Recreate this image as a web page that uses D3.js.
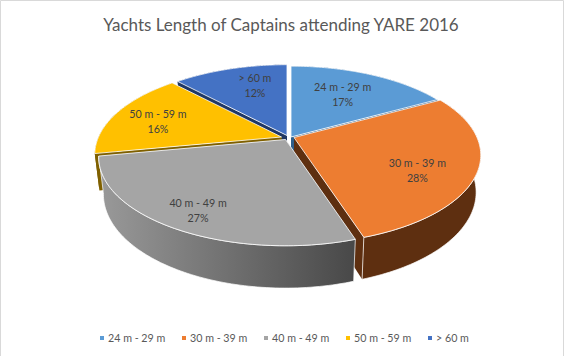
<!DOCTYPE html>
<html>
<head>
<meta charset="utf-8">
<script src="https://cdnjs.cloudflare.com/ajax/libs/d3/7.8.5/d3.min.js"></script>
<style>
  html, body { margin: 0; padding: 0; background: #fff; }
  svg { display: block; }
  text { font-family: Lato, "Open Sans", sans-serif; }
</style>
</head>
<body>
<div id="wrapper"></div>
<script>
// 1. Data
const chartTitle = "Yachts Length of Captains attending YARE 2016"
const categories = ["24 m - 29 m", "30 m - 39 m", "40 m - 49 m", "50 m - 59 m", "> 60 m"]
const shares = [17, 28, 27, 16, 12]
const topColors = ["#5B9BD5", "#ED7D31", "#A5A5A5", "#FFC000", "#4472C4"]
const sideColors = ["#2E5F8C", "#5E2F10", "#5F5F5F", "#7F6000", "#203864"]

// 2. Dimensions of the tilted pie
const dimensions = { width: 564, height: 356 }
const pieCenter = { x: 288, y: 137.5 }
const radiusX = 183
const radiusY = 85
const perspective = 0.2
const depth = 36
const lowerScale = 0.975
// how far each slice is pulled out of the pie, in px
const sliceOffset = [[3, -0.5], [6, 0], [-2.5, 2], [-6.5, -0.5], [-1, -2]]
// label spot: fraction of the radius, then a small nudge in px
const labelRadius = [0.6, 0.72, 0.8, 0.73, 0.65]
const labelNudge = [[1, -2.5], [-6, 9.5], [-1, 3.5], [-2, 2.6], [7, -4.6]]

const wrapper = d3.select("#wrapper")
  .append("svg")
  .attr("width", dimensions.width)
  .attr("height", dimensions.height)

wrapper.append("rect")
  .attr("width", dimensions.width)
  .attr("height", dimensions.height)
  .attr("fill", "#fff")

// chart frame, no line along the bottom
wrapper.append("path")
  .attr("d", `M0.5,${dimensions.height}V0.5H${dimensions.width - 0.5}V${dimensions.height}`)
  .attr("fill", "none")
  .attr("stroke", "#D9D9D9")

const defs = wrapper.append("defs")
const grayWall = defs.append("linearGradient")
  .attr("id", "gray-wall")
  .attr("gradientUnits", "userSpaceOnUse")
  .attr("x1", 98).attr("x2", 358)
  .attr("y1", 0).attr("y2", 0)
grayWall.append("stop").attr("offset", "0%").attr("stop-color", "#9A9A9A")
grayWall.append("stop").attr("offset", "100%").attr("stop-color", "#474747")

// 3. Angles and projection
const pieAngles = d3.pie().sort(null).value(d => d)(shares)

const project = (angle, radius, origin, lower) => {
  const w = 1 + perspective * radius * Math.cos(angle)
  const scale = lower ? lowerScale : 1
  return [
    origin.x + scale * radiusX * radius * Math.sin(angle) / w,
    origin.y - scale * radiusY * radius * Math.cos(angle) / w + (lower ? depth / w : 0),
  ]
}

const sliceOrigin = i => ({
  x: pieCenter.x + sliceOffset[i][0],
  y: pieCenter.y + sliceOffset[i][1],
})

const lineGenerator = d3.line()
const stepsFor = d => d3.range(d.startAngle, d.endAngle, 0.02).concat(d.endAngle)

// 4. Draw slices, back ones first
const drawOrder = [4, 0, 3, 1, 2]
const bounds = wrapper.append("g")

drawOrder.forEach(i => {
  const d = pieAngles[i]
  const origin = sliceOrigin(i)
  const steps = stepsFor(d)
  const apexTop = [origin.x, origin.y]
  const apexLow = [origin.x, origin.y + depth]
  const fill = i == 2 ? "url(#gray-wall)" : sideColors[i]

  const topArc = steps.map(a => project(a, 1, origin, false))
  const lowArc = steps.map(a => project(a, 1, origin, true))

  // cut faces
  ;[d.startAngle, d.endAngle].forEach(a => {
    bounds.append("path")
      .attr("d", lineGenerator([
        apexTop,
        project(a, 1, origin, false),
        project(a, 1, origin, true),
        apexLow,
      ]) + "Z")
      .attr("fill", sideColors[i])
  })

  // outer wall, only the two front slices show a light edge
  bounds.append("path")
    .attr("d", lineGenerator(topArc.concat(lowArc.slice().reverse())) + "Z")
    .attr("fill", fill)
    .attr("stroke", i == 1 || i == 2 ? "#fff" : "none")
    .attr("stroke-width", 0.7)

  // top
  bounds.append("path")
    .attr("d", lineGenerator([apexTop].concat(topArc)) + "Z")
    .attr("fill", topColors[i])
    .attr("stroke", "#fff")
    .attr("stroke-width", 0.8)
})

// 5. Labels
pieAngles.forEach((d, i) => {
  const mid = (d.startAngle + d.endAngle) / 2
  const [px, py] = project(mid, labelRadius[i], sliceOrigin(i), false)
  const x = px + labelNudge[i][0]
  const y = py + labelNudge[i][1]
  const label = wrapper.append("text")
    .attr("text-anchor", "middle")
    .attr("fill", "#404040")
    .style("font-size", "10.7px")
  label.append("tspan").attr("x", x).attr("y", y - 3.5).text(categories[i])
  label.append("tspan").attr("x", x).attr("y", y + 11.5).text(shares[i] + "%")
})

// 6. Title and legend
wrapper.append("text")
  .attr("x", 281)
  .attr("y", 31)
  .attr("text-anchor", "middle")
  .attr("fill", "#595959")
  .style("font-size", "17px")
  .text(chartTitle)

const legendX = d3.scalePoint()
  .domain(categories)
  .range([100, 428])

const legend = wrapper.selectAll(".legend-item")
  .data(categories)
  .join("g")
  .attr("class", "legend-item")
  .attr("transform", d => `translate(${legendX(d)}, 338)`)

legend.append("rect")
  .attr("y", -2)
  .attr("width", 4)
  .attr("height", 4)
  .attr("fill", (d, i) => topColors[i])

legend.append("text")
  .attr("x", 8)
  .attr("y", 4)
  .attr("fill", "#595959")
  .style("font-size", "10.7px")
  .text(d => d)
</script>
</body>
</html>
